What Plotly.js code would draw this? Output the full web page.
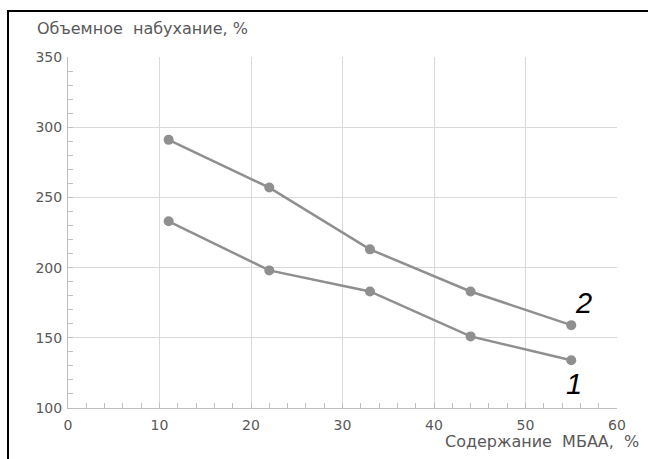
<!DOCTYPE html>
<html>
<head>
<meta charset="utf-8">
<script src="https://cdn.plot.ly/plotly-3.0.1.min.js"></script>
<style>
html,body{margin:0;padding:0;background:#fff;}
#wrap{position:relative;width:648px;height:459px;}
#chart{width:648px;height:459px;}
#frameTop{position:absolute;left:7px;top:10px;width:641px;height:2px;background:#000;}
#frameLeft{position:absolute;left:7px;top:10px;width:2px;height:449px;background:#000;}
</style>
</head>
<body>
<div id="wrap">
<div id="chart"></div>
<div id="frameTop"></div>
<div id="frameLeft"></div>
</div>
<script>
const xValues = [11, 22, 33, 44, 55];
const series1 = [233, 198, 183, 151, 134];
const series2 = [291, 257, 213, 183, 159];
const yTitle = "Объемное&nbsp; набухание,&nbsp;%";
const xTitle = "Содержание&nbsp; МБАА,&nbsp; %";
const label1 = "1";
const label2 = "2";

const gray = "#8f8f8f";
const tickFont = {family: "DejaVu Sans, sans-serif", size: 14, color: "#595959"};
const titleFont = {family: "DejaVu Sans, sans-serif", size: 16, color: "#595959"};
const labelFont = {family: "Liberation Sans Narrow, Liberation Sans, Arial, sans-serif", size: 29, color: "#000"};

const traces = [
  {x: xValues, y: series1, mode: "lines+markers", line: {color: gray, width: 2.5}, marker: {color: gray, size: 10}},
  {x: xValues, y: series2, mode: "lines+markers", line: {color: gray, width: 2.5}, marker: {color: gray, size: 10}}
];

const layout = {
  width: 648, height: 459,
  margin: {l: 68, r: 31, t: 57, b: 51},
  paper_bgcolor: "#fff", plot_bgcolor: "#fff",
  showlegend: false,
  font: tickFont,
  title: {text: yTitle, font: titleFont, x: 37/648, xanchor: "left", xref: "container", y: 1 - 28/459, yanchor: "middle", yref: "container"},
  xaxis: {
    range: [0, 60], dtick: 10, tick0: 0,
    showline: true, linecolor: "#bfbfbf", linewidth: 1,
    showgrid: true, gridcolor: "#d9d9d9", gridwidth: 1,
    zeroline: false,
    ticks: "inside", ticklen: 5, tickcolor: "#bfbfbf",
    minor: {dtick: 2, ticks: "inside", ticklen: 5, tickcolor: "#bfbfbf", showgrid: false},
    tickfont: tickFont, ticklabelstandoff: 4, fixedrange: true
  },
  yaxis: {
    range: [100, 350], dtick: 50, tick0: 100,
    showline: true, linecolor: "#bfbfbf", linewidth: 1,
    showgrid: true, gridcolor: "#d9d9d9", gridwidth: 1,
    zeroline: false,
    ticks: "inside", ticklen: 5, tickcolor: "#bfbfbf",
    minor: {dtick: 10, ticks: "inside", ticklen: 5, tickcolor: "#bfbfbf", showgrid: false},
    tickfont: tickFont, ticklabelstandoff: 2, fixedrange: true
  },
  annotations: [
    {text: xTitle, xref: "paper", yref: "paper", x: 1 + 24/549, y: -33/351, xanchor: "right", yanchor: "middle", showarrow: false, font: titleFont},
    {text: "<i>" + label2 + "</i>", x: 56.3, y: 174.5, xref: "x", yref: "y", showarrow: false, xanchor: "center", yanchor: "middle", font: labelFont},
    {text: "<i>" + label1 + "</i>", x: 55.3, y: 117, xref: "x", yref: "y", showarrow: false, xanchor: "center", yanchor: "middle", font: labelFont}
  ]
};

Plotly.newPlot("chart", traces, layout, {displayModeBar: false, staticPlot: true});
</script>
</body>
</html>
